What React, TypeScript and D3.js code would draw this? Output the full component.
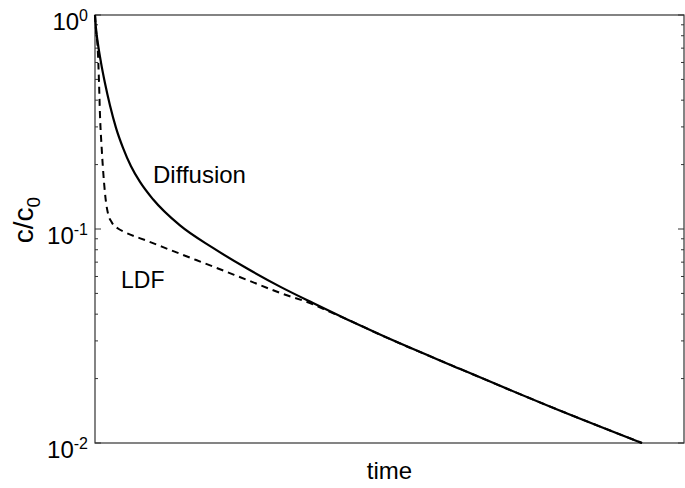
import React from "react";
import * as d3 from "d3";

const diffusionT = [0, 0.17, 0.509, 1.019, 1.698, 2.547, 3.565, 4.754, 6.112, 7.64, 9.847, 14.43, 20.03, 25.76, 31.41, 37.01, 42.73, 48.39, 61.97, 77.42, 92.87];
const diffusionC = [1, 0.8655, 0.7299, 0.5991, 0.4798, 0.378, 0.297, 0.2395, 0.1966, 0.166, 0.1377, 0.1039, 0.0816, 0.0655, 0.0538, 0.0451, 0.0379, 0.0321, 0.0222, 0.01474, 0.01];

const ldfT = [0, 0.17, 0.458, 0.679, 0.849, 1.138, 1.528, 1.868, 2.207, 2.835, 3.905, 5.093, 9.0, 14.43, 20.03, 25.76, 31.41, 37.01, 39.9, 42.73, 48.39, 61.97, 77.42, 92.87];
const ldfC = [1, 0.851, 0.7, 0.487, 0.34, 0.238, 0.1657, 0.1335, 0.1182, 0.1076, 0.1005, 0.0966, 0.0877, 0.0766, 0.0668, 0.0579, 0.0503, 0.0445, 0.041, 0.0379, 0.0321, 0.0222, 0.01474, 0.01];

const yTickValues = [1, 0.1, 0.01];
const yTickExponents = ["0", "-1", "-2"];
const xLabel = "time";

const W = 685;
const H = 488;
const M = { left: 95, right: 1, top: 15, bottom: 45 };

export default function App() {
  const x = d3.scaleLinear().domain([0, 100]).range([M.left, W - M.right]);
  const y = d3.scaleLog().domain([0.01, 1]).range([H - M.bottom, M.top]);
  const line = d3
    .line<[number, number]>()
    .x((d) => x(d[0]))
    .y((d) => y(d[1]))
    .curve(d3.curveMonotoneX);

  const diff: [number, number][] = diffusionT.map((t, i) => [t, diffusionC[i]]);
  const ldf: [number, number][] = ldfT.map((t, i) => [t, ldfC[i]]);

  const minor: number[] = [];
  for (const dec of [0.01, 0.1]) {
    for (let k = 2; k <= 9; k++) minor.push(dec * k);
  }
  const x0 = M.left;
  const x1 = W - M.right;
  const font = "Liberation Sans, Arial, sans-serif";

  return (
    <svg
      width={W}
      height={H}
      style={{ position: "absolute", left: 0, top: 0, background: "#fff" }}
      fontFamily={font}
    >
      <rect x={0} y={0} width={W} height={H} fill="#fff" />
      {yTickValues.map((v, i) => (
        <g key={"maj" + i}>
          <line x1={x0} x2={x0 + 6} y1={y(v)} y2={y(v)} stroke="#333" strokeWidth={1} />
          <line x1={x1} x2={x1 - 6} y1={y(v)} y2={y(v)} stroke="#333" strokeWidth={1} />
        </g>
      ))}
      {minor.map((v, i) => (
        <g key={"min" + i}>
          <line x1={x0} x2={x0 + 3} y1={y(v)} y2={y(v)} stroke="#333" strokeWidth={1} />
          <line x1={x1} x2={x1 - 3} y1={y(v)} y2={y(v)} stroke="#333" strokeWidth={1} />
        </g>
      ))}
      <rect
        x={x0}
        y={M.top}
        width={x1 - x0}
        height={H - M.bottom - M.top}
        fill="none"
        stroke="#333"
        strokeWidth={1.2}
      />
      <path d={line(ldf) || ""} fill="none" stroke="#000" strokeWidth={2} strokeDasharray="7,5" />
      <path d={line(diff) || ""} fill="none" stroke="#000" strokeWidth={2.2} />
      {yTickValues.map((v, i) => (
        <text key={"lab" + i} x={88} y={y(v) + 15} textAnchor="end" fontSize={24} fill="#000">
          10
          <tspan fontSize={16} dy={-9}>
            {yTickExponents[i]}
          </tspan>
        </text>
      ))}
      <text x={153} y={183} fontSize={24} fill="#000">
        Diffusion
      </text>
      <text x={121} y={288} fontSize={23} fill="#000">
        LDF
      </text>
      <text x={(x0 + x1) / 2} y={479} textAnchor="middle" fontSize={24} fill="#000">
        {xLabel}
      </text>
      <text transform={`translate(33, 220) rotate(-90)`} textAnchor="middle" fontSize={28} fill="#000">
        c/c
        <tspan fontSize={19} dy={7}>
          0
        </tspan>
      </text>
    </svg>
  );
}
